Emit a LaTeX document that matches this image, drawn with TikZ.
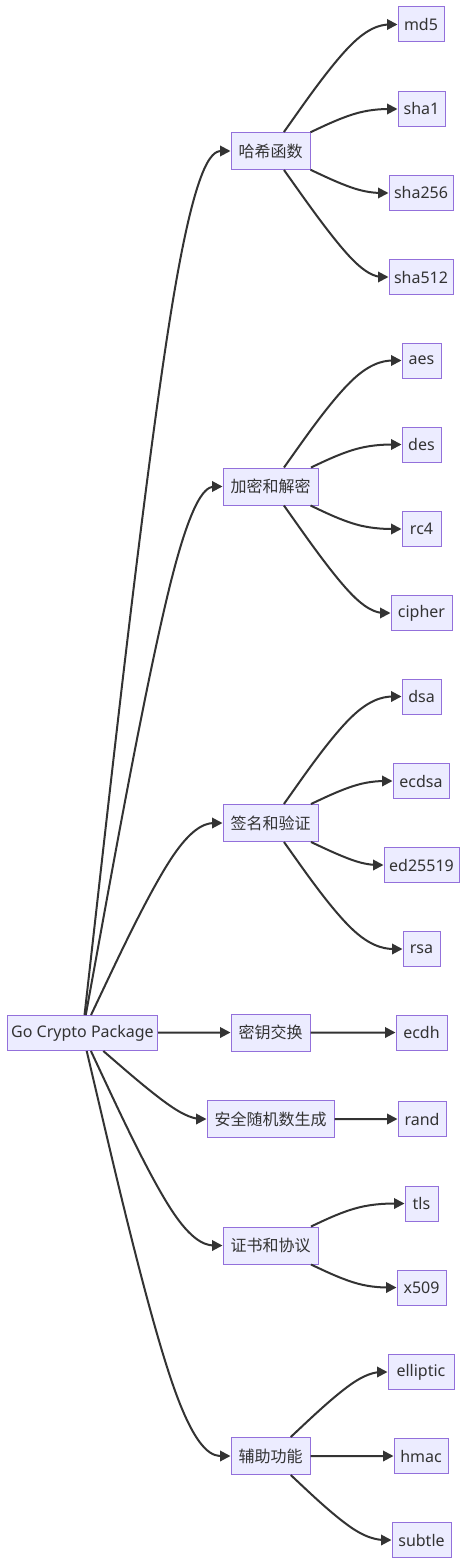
\documentclass[tikz,border=0pt]{standalone}
\usepackage{fontspec}
\setmainfont{Noto Sans}
\newfontfamily\cjk{Noto Sans CJK SC}
\usetikzlibrary{arrows.meta,calc}
\definecolor{nodefill}{HTML}{ECECFF}
\definecolor{nodeline}{HTML}{9370DB}
\definecolor{ln}{HTML}{333333}
\newcommand\bedge[3]{%
  \coordinate (xm) at (#3,0);
  \coordinate (p2) at (#2.west);
  \coordinate (p1) at (p2 -| xm);
  \path (#1) -- (p1) coordinate[pos=0] (p0);
  \draw[edge] (p0) -- ($(p0)!0.1666667!(p1)$)
     .. controls ($(p0)!0.3333333!(p1)$) and ($(p0)!0.6666667!(p1)$) .. ($0.1666667*(p0)+0.6666667*(p1)+0.1666667*(p2)$)
     .. controls ($(p1)!0.3333333!(p2)$) and ($(p1)!0.6666667!(p2)$) .. ($(p1)!0.8333333!(p2)$) -- (#2);
}
\begin{document}
\begin{tikzpicture}[x=1pt,y=-1pt,
  box/.style={draw=nodeline,fill=nodefill,line width=1pt,text=ln,inner sep=0pt,
     minimum height=35pt,font=\fontsize{16}{19}\selectfont,anchor=center},
  cat/.style={box,minimum height=37pt,font=\fontsize{16}{19}\selectfont\cjk},
  edge/.style={draw=ln,line width=2pt,-{Triangle[length=10.5pt,width=10.5pt]}}]
\useasboundingbox (0,0) rectangle (467,1565);
\fill[white] (0,0) rectangle (467,1565);
% root
\node[box,minimum width=150pt] (root) at (82.5,1033) {Go Crypto Package};
% categories
\node[cat,minimum width=79pt]  (h) at (270.5,151)    {哈希函数};
\node[cat,minimum width=95pt]  (e) at (270.5,486.5)  {加密和解密};
\node[cat,minimum width=95pt]  (s) at (270.5,823)    {签名和验证};
\node[cat,minimum width=79pt]  (k) at (270.5,1032.5) {密钥交换};
\node[cat,minimum width=127pt] (r) at (270.5,1119)   {安全随机数生成};
\node[cat,minimum width=95pt]  (c) at (270.5,1245.5) {证书和协议};
\node[cat,minimum width=79pt]  (a) at (270.5,1456)   {辅助功能};
% leaves
\node[box,minimum width=46pt] (md5)    at (421,24.5)    {md5};
\node[box,minimum width=47pt] (sha1)   at (421.5,109)   {sha1};
\node[box,minimum width=64pt] (sha256) at (421,193)     {sha256};
\node[box,minimum width=64pt] (sha512) at (421,277)     {sha512};
\node[box,minimum width=39pt] (aes)    at (421.5,360.5) {aes};
\node[box,minimum width=39pt] (des)    at (421.5,444.5) {des};
\node[box,minimum width=39pt] (rc4)    at (421.5,529)   {rc4};
\node[box,minimum width=61pt] (cipher) at (421.5,613)   {cipher};
\node[box,minimum width=39pt] (dsa)    at (421.5,696.5) {dsa};
\node[box,minimum width=56pt] (ecdsa)  at (421,781)     {ecdsa};
\node[box,minimum width=75pt] (ed)     at (421.5,865)   {ed25519};
\node[box,minimum width=37pt] (rsa)    at (421.5,949)   {rsa};
\node[box,minimum width=51pt] (ecdh)   at (421.5,1032.5){ecdh};
\node[box,minimum width=48pt] (rand)   at (422,1119)    {rand};
\node[box,minimum width=33pt] (tls)    at (421.5,1203.5){tls};
\node[box,minimum width=49pt] (x509)   at (421.5,1287.5){x509};
\node[box,minimum width=66pt] (ell)    at (421,1372)    {elliptic};
\node[box,minimum width=54pt] (hmac)   at (421,1456)    {hmac};
\node[box,minimum width=59pt] (subtle) at (421.5,1540)  {subtle};
% root edges
\bedge{root}{h}{182}
\bedge{root}{e}{182}
\bedge{root}{s}{182}
\bedge{root}{k}{182}
\bedge{root}{r}{182}
\bedge{root}{c}{182}
\bedge{root}{a}{182}
% leaf edges
\bedge{h}{md5}{360}
\bedge{h}{sha1}{360}
\bedge{h}{sha256}{360}
\bedge{h}{sha512}{360}
\bedge{e}{aes}{360}
\bedge{e}{des}{360}
\bedge{e}{rc4}{360}
\bedge{e}{cipher}{360}
\bedge{s}{dsa}{360}
\bedge{s}{ecdsa}{360}
\bedge{s}{ed}{360}
\bedge{s}{rsa}{360}
\bedge{k}{ecdh}{360}
\bedge{r}{rand}{360}
\bedge{c}{tls}{360}
\bedge{c}{x509}{360}
\bedge{a}{ell}{360}
\bedge{a}{hmac}{360}
\bedge{a}{subtle}{360}
\end{tikzpicture}
\end{document}
